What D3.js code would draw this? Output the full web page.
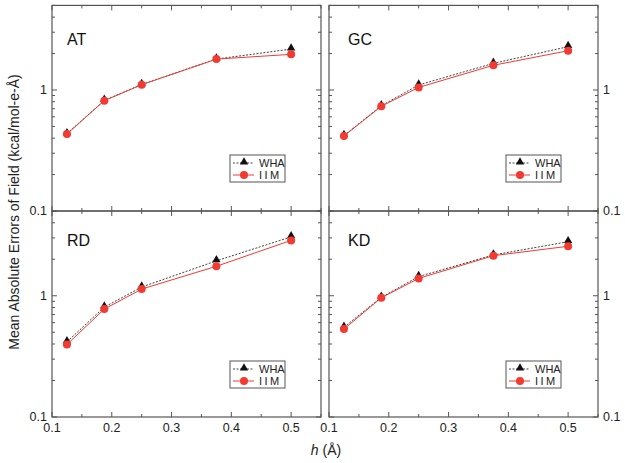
<!DOCTYPE html>
<html><head><meta charset="utf-8">
<script src="https://cdn.jsdelivr.net/npm/d3@7"></script>
<style>body{margin:0;background:#fff}svg{display:block;font-family:"Liberation Sans",Arial,sans-serif}</style>
</head><body><svg id="c" width="625" height="463"></svg>
<script>
const hValues = [0.125, 0.1875, 0.25, 0.375, 0.5];
const panelNames = ["AT", "GC", "RD", "KD"];
const whaAT = [0.435, 0.82, 1.11, 1.80, 2.18];
const iimAT = [0.433, 0.816, 1.106, 1.80, 1.97];
const whaGC = [0.42, 0.74, 1.10, 1.66, 2.28];
const iimGC = [0.417, 0.733, 1.05, 1.60, 2.11];
const whaRD = [0.417, 0.806, 1.18, 1.94, 3.06];
const iimRD = [0.396, 0.776, 1.135, 1.75, 2.86];
const whaKD = [0.55, 0.97, 1.44, 2.17, 2.79];
const iimKD = [0.531, 0.963, 1.39, 2.14, 2.56];
const xTicks = [0.1, 0.2, 0.3, 0.4, 0.5];
const xMinorTicks = [0.15, 0.25, 0.35, 0.45, 0.55];
const yTicks = [0.1, 1];
const seriesNames = ["WHA", "IIM"];
const whaData = [whaAT, whaGC, whaRD, whaKD];
const iimData = [iimAT, iimGC, iimRD, iimKD];

const svg = d3.select("#c");
const colX = [[52, 321], [329, 598]];
const rowY = [[5.4, 211], [211, 417]];
const red = "#f23a32";
const axisCol = "#555";

const yMinor = [];
for (const dec of [0.1, 1]) for (let k = 2; k <= 9; k++) { const v = k * dec; if (v <= 5.0001) yMinor.push(v); }

panelNames.forEach((name, i) => {
  const col = i % 2, row = Math.floor(i / 2);
  const x = d3.scaleLinear().domain([0.1, 0.55]).range(colX[col]);
  const y = d3.scaleLog().domain([0.1, 5]).range([rowY[row][1], rowY[row][0]]);
  const g = svg.append("g");
  const [x0, x1] = colX[col], [y0, y1] = rowY[row];

  const tk = g.append("g").attr("stroke", axisCol).attr("stroke-width", 1);
  xTicks.forEach(t => {
    tk.append("line").attr("x1", x(t)).attr("x2", x(t)).attr("y1", y1).attr("y2", y1 - 5);
    tk.append("line").attr("x1", x(t)).attr("x2", x(t)).attr("y1", y0).attr("y2", y0 + 5);
  });
  xMinorTicks.forEach(t => {
    tk.append("line").attr("x1", x(t)).attr("x2", x(t)).attr("y1", y1).attr("y2", y1 - 3);
    tk.append("line").attr("x1", x(t)).attr("x2", x(t)).attr("y1", y0).attr("y2", y0 + 3);
  });
  yTicks.forEach(t => {
    tk.append("line").attr("y1", y(t)).attr("y2", y(t)).attr("x1", x0).attr("x2", x0 + 5);
    tk.append("line").attr("y1", y(t)).attr("y2", y(t)).attr("x1", x1).attr("x2", x1 - 5);
  });
  yMinor.forEach(t => {
    tk.append("line").attr("y1", y(t)).attr("y2", y(t)).attr("x1", x0).attr("x2", x0 + 3);
    tk.append("line").attr("y1", y(t)).attr("y2", y(t)).attr("x1", x1).attr("x2", x1 - 3);
  });

  g.append("rect").attr("x", x0).attr("y", y0).attr("width", x1 - x0).attr("height", y1 - y0)
    .attr("fill", "none").attr("stroke", axisCol).attr("stroke-width", 1.2);

  yTicks.forEach(t => {
    const tx = col === 0 ? x0 - 5 : x1 + 5;
    g.append("text").attr("x", tx).attr("y", y(t)).attr("dy", "0.35em")
      .attr("text-anchor", col === 0 ? "end" : "start").attr("font-size", 12.5).attr("fill", "#222")
      .text(d3.format("~g")(t));
  });
  if (row === 1) {
    xTicks.forEach(t => {
      g.append("text").attr("x", x(t)).attr("y", y1 + 15).attr("text-anchor", "middle")
        .attr("font-size", 12.5).attr("fill", "#222").text(d3.format(".1f")(t));
    });
  }

  g.append("text").attr("x", x0 + (col === 0 ? 15 : 19)).attr("y", y0 + (row === 0 ? 40 : 35))
    .attr("font-size", 16).attr("fill", "#111").text(name);

  const line = d3.line().x((d, j) => x(hValues[j])).y(d => y(d));
  const wha = whaData[i], iim = iimData[i];
  g.append("path").attr("d", line(wha)).attr("fill", "none").attr("stroke", "#111")
    .attr("stroke-width", 0.8).attr("stroke-dasharray", "2,1.5");
  const tri = d3.symbol().type(d3.symbolTriangle).size(30);
  g.selectAll(".tri").data(wha).join("path").attr("d", tri)
    .attr("transform", (d, j) => `translate(${x(hValues[j])},${y(d) - 1})`).attr("fill", "#111");
  g.append("path").attr("d", line(iim)).attr("fill", "none").attr("stroke", red).attr("stroke-width", 1);
  g.selectAll(".cir").data(iim).join("circle").attr("cx", (d, j) => x(hValues[j])).attr("cy", d => y(d))
    .attr("r", 4).attr("fill", red);

  const lx = col === 0 ? x1 - 91 : x1 - 92, ly = y1 - 56;
  const lg = g.append("g").attr("transform", `translate(${lx},${ly})`);
  lg.append("rect").attr("width", 55).attr("height", 27).attr("fill", "#fff").attr("stroke", axisCol).attr("stroke-width", 1);
  lg.append("line").attr("x1", 3).attr("x2", 24).attr("y1", 8).attr("y2", 8).attr("stroke", "#111")
    .attr("stroke-width", 0.8).attr("stroke-dasharray", "2,1.5");
  lg.append("path").attr("d", tri).attr("transform", "translate(14,7)").attr("fill", "#111");
  lg.append("line").attr("x1", 3).attr("x2", 24).attr("y1", 20).attr("y2", 20).attr("stroke", red).attr("stroke-width", 1);
  lg.append("circle").attr("cx", 14).attr("cy", 20).attr("r", 4).attr("fill", red);
  lg.append("text").attr("x", 29).attr("y", 8).attr("dy", "0.35em").attr("font-size", 11).attr("fill", "#222").text(seriesNames[0]);
  lg.append("text").attr("x", 29).attr("y", 20).attr("dy", "0.35em").attr("font-size", 11).attr("fill", "#222")
    .attr("letter-spacing", "2.5px").text(seriesNames[1]);
});

svg.append("text").attr("transform", "translate(19,212) rotate(-90)").attr("text-anchor", "middle")
  .attr("font-size", 14).attr("fill", "#222").text("Mean Absolute Errors of Field (kcal/mol-e-Å)");
const xt = svg.append("text").attr("x", 326).attr("y", 455).attr("text-anchor", "middle")
  .attr("font-size", 14).attr("fill", "#222");
xt.append("tspan").attr("font-style", "italic").text("h");
xt.append("tspan").text(" (Å)");
</script></body></html>
